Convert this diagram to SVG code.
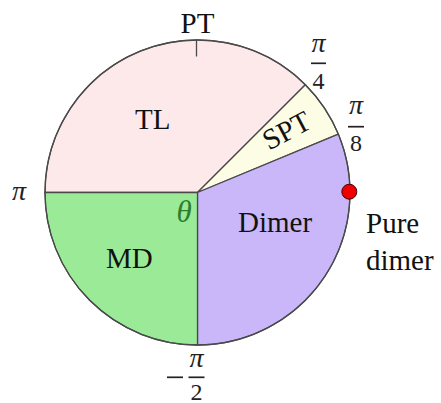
<svg xmlns="http://www.w3.org/2000/svg" width="441" height="403" viewBox="0 0 441 403">
<style>
.w{stroke:#4a4a4a;stroke-width:1.3;stroke-linejoin:round}
.lbl{font-family:"Liberation Serif","Times New Roman",serif;font-size:29px;fill:#111}
.m{font-family:"Liberation Serif","Times New Roman",serif;font-size:24px;fill:#222;text-anchor:middle}
.pi{font-style:italic;font-size:28px}
.bar{stroke:#222;stroke-width:1.7}
</style>
<rect width="441" height="403" fill="#fff"/>
<g id="TL">
<path class="w" d="M197.5,192.5 L305.33,84.67 A152.5,152.5 0 0 0 45,192.5 Z" fill="#fde9ea"/>
<text class="lbl" x="135" y="129">TL</text>
</g>
<g id="SPT">
<path class="w" d="M197.5,192.5 L338.39,134.14 A152.5,152.5 0 0 0 305.33,84.67 Z" fill="#fdfde6"/>
<text class="lbl" x="291" y="139" text-anchor="middle" transform="rotate(-28 291 139)">SPT</text>
</g>
<g id="Dimer">
<path class="w" d="M197.5,192.5 L197.5,345 A152.5,152.5 0 0 0 338.39,134.14 Z" fill="#c9b7fa"/>
<text class="lbl" x="238" y="232">Dimer</text>
</g>
<g id="MD">
<path class="w" d="M197.5,192.5 L45,192.5 A152.5,152.5 0 0 0 197.5,345 Z" fill="#9aea98"/>
<text class="lbl" x="106" y="268">MD</text>
</g>
<g id="connectors">
<circle cx="197.5" cy="192.5" r="152.5" fill="none" class="w"/>
<line x1="196.5" y1="40" x2="196.5" y2="56.5" stroke="#4a4a4a" stroke-width="1.3"/>
</g>
<g id="theta">
<text x="184" y="222" font-family="Liberation Serif,serif" font-size="31" font-style="italic" fill="#2d7d2d" text-anchor="middle">θ</text>
</g>
<g id="PT">
<text class="lbl" x="180.5" y="33">PT</text>
</g>
<g id="pure-dimer">
<circle cx="349.3" cy="191.7" r="7.5" fill="#ee0000" stroke="#400" stroke-width="1"/>
<text class="lbl" x="366" y="233">Pure</text>
<text class="lbl" x="366" y="270">dimer</text>
</g>
<g id="ticks">
<text class="m pi" x="19" y="200">π</text>
<text class="m pi" x="318.5" y="52">π</text>
<line class="bar" x1="311" y1="63.3" x2="326" y2="63.3"/>
<text class="m" x="318.5" y="89">4</text>
<text class="m pi" x="356" y="113.5">π</text>
<line class="bar" x1="348" y1="126.7" x2="364" y2="126.7"/>
<text class="m" x="356" y="150.5">8</text>
<line class="bar" x1="167" y1="377.3" x2="183" y2="377.3"/>
<text class="m pi" x="196.5" y="367">π</text>
<line class="bar" x1="188.5" y1="377.3" x2="204.5" y2="377.3"/>
<text class="m" x="196.5" y="399.5">2</text>
</g>
</svg>
